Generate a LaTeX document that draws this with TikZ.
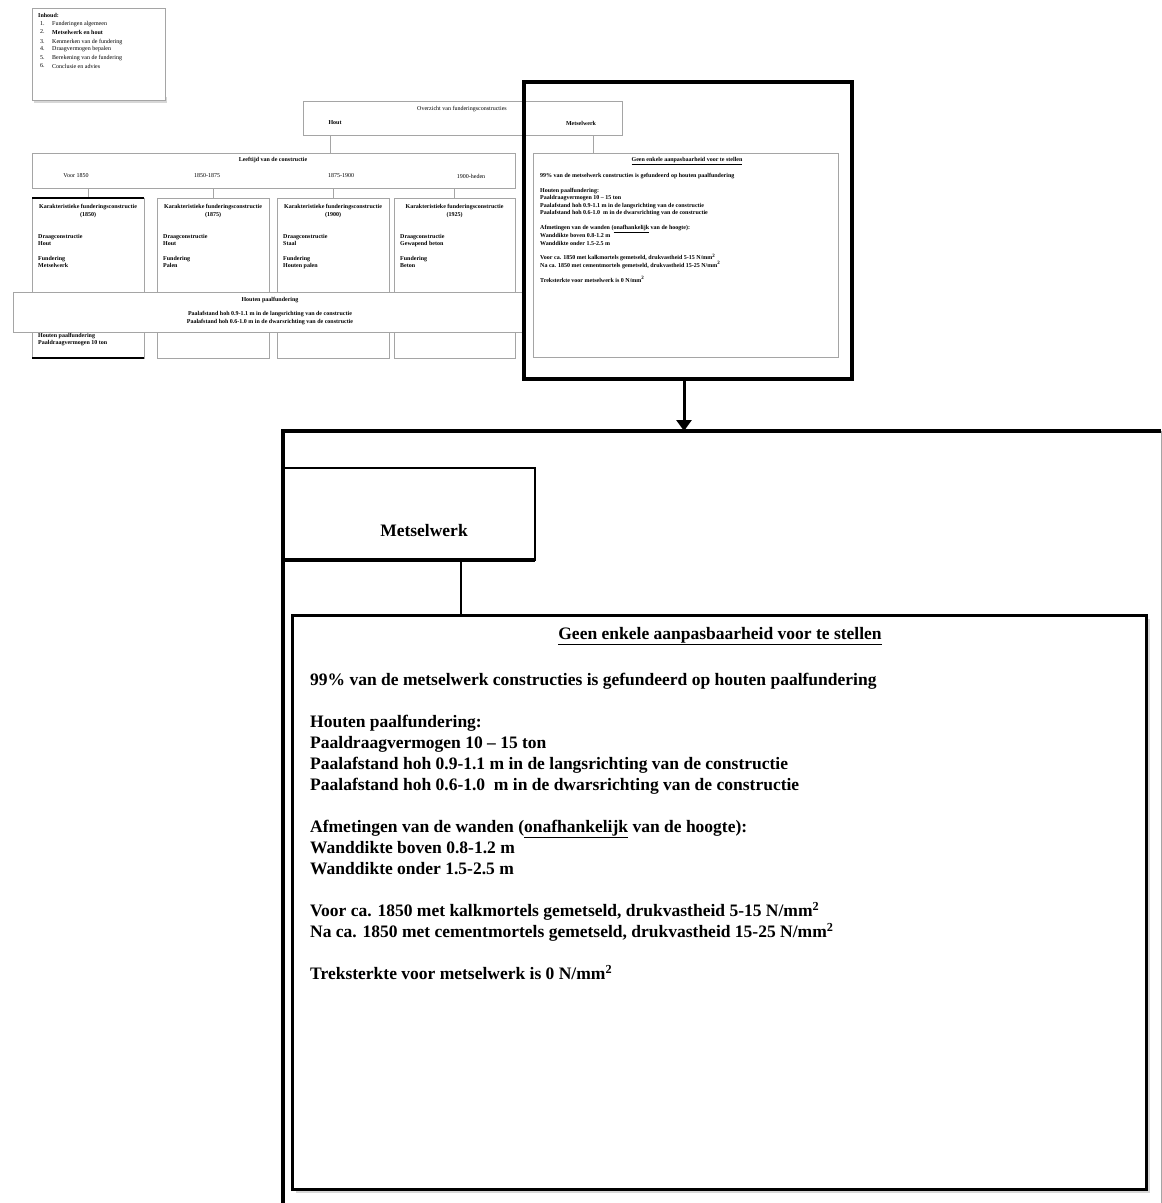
\documentclass[tikz,border=0pt]{standalone}
\usepackage{fontspec}
\setmainfont{Liberation Serif}
\usetikzlibrary{arrows.meta,positioning,calc}

\definecolor{kadergrijs}{RGB}{165,165,165}
\definecolor{schaduw}{RGB}{215,215,215}

% tekst van het metselwerk-vak (klein en groot gebruikt)
\newcommand{\metselkop}{Geen enkele aanpasbaarheid voor te stellen}
\newcommand{\metselinhoud}{%
99\% van de metselwerk constructies is gefundeerd op houten paalfundering\\[\baselineskip]
Houten paalfundering:\\
Paaldraagvermogen 10 -- 15 ton\\
Paalafstand hoh 0.9-1.1 m in de langsrichting van de constructie\\
Paalafstand hoh 0.6-1.0 \ m in de dwarsrichting van de constructie\\[\baselineskip]
Afmetingen van de wanden (\underline{onafhankelijk} van de hoogte):\\
Wanddikte boven 0.8-1.2 m\\
Wanddikte onder 1.5-2.5 m\\[\baselineskip]
Voor ca. 1850 met kalkmortels gemetseld, drukvastheid 5-15 N/mm\textsuperscript{2}\\
Na ca. 1850 met cementmortels gemetseld, drukvastheid 15-25 N/mm\textsuperscript{2}\\[\baselineskip]
Treksterkte voor metselwerk is 0 N/mm\textsuperscript{2}}

\begin{document}
\begin{tikzpicture}[
    x=1pt, y=-1pt,
    vak/.style={
        draw=kadergrijs, line width=0.9pt, fill=white,
        inner sep=0pt, outer sep=0pt, anchor=north west
    },
    mini/.style={font=\fontsize{6}{7.4}\selectfont, inner sep=0pt},
    minivet/.style={font=\fontsize{6}{7.4}\selectfont\bfseries, inner sep=0pt},
    groot/.style={font=\fontsize{17.5}{21}\selectfont\bfseries, inner sep=0pt},
    verbinding/.style={draw=kadergrijs, line width=0.9pt},
    dik/.style={line width=4pt, black}
]
\useasboundingbox (0,0) rectangle (1162,1203);

% Inhoud (links boven)
\fill[schaduw] (34,97) rectangle (167,103);
\node[vak, minimum width=133, minimum height=92] (inhoud) at (32,8) {};
\node[minivet, anchor=west] (inhoudkop) at (38,15) {Inhoud:};
\foreach \n/\y/\t in {1/24/Funderingen algemeen,
                      2/32/\textbf{Metselwerk en hout},
                      3/42/Kenmerken van de fundering,
                      4/49/Draagvermogen bepalen,
                      5/58/Berekening van de fundering,
                      6/66/Conclusie en advies} {
    \node[mini, anchor=west] (nummer\n) at (40,\y) {\n.};
    \node[mini, anchor=west] (punt\n) at (52,\y) {\t};
}

% Soorten constructies
\node[vak, minimum width=319, minimum height=34] (soorten) at (303,101) {};
\node[mini] (soortenkop) at (462,109) {Overzicht van funderingsconstructies};
\node[minivet] (hout) at (335,123) {Hout};
\node[minivet] (metsel) at (581,123) {Metselwerk};
\coordinate (houttak) at (330,0);
\coordinate (metseltak) at (593,0);

% Leeftijd
\node[vak, minimum width=483, minimum height=35] (leeftijd) at (32,153) {};
\node[minivet] (leeftijdkop) at (273,160) {Leeftijd van de constructie};
\node[mini] (tijd1) at (76,176) {Voor 1850};
\node[mini] (tijd2) at (207,176) {1850-1875};
\node[mini] (tijd3) at (341,176) {1875-1900};
\node[mini] (tijd4) at (471,176) {1900-heden};
\draw[verbinding] (soorten.south -| houttak) -- (leeftijd.north -| houttak);

% Vier perioden
\foreach \i/\x/\w/\jaar/\draag/\fund in {
        1/32/112/1850/Hout / Metselwerk/Palen,
        2/157/112/1875/Hout/Palen,
        3/277/112/1900/Staal/Houten palen,
        4/394/121/1925/Gewapend beton/Beton} {
    \node[vak, minimum width=\w, minimum height=160] (periode\i) at (\x,198) {};
    \draw[verbinding] (periode\i.north |- leeftijd.south) -- (periode\i.north);
    \node[minivet, align=center] (periodekop\i) at ($(periode\i.north)+(0,13)$)
        {Karakteristieke funderingsconstructie\\(\jaar)};
    \node[minivet, align=left, anchor=north west] (periodetekst\i) at (\x+6,234)
        {Draagconstructie\\\draag\\[\baselineskip]Fundering\\\fund};
}
\draw[black, line width=1.5pt] (periode1.north west) -- (periode1.north east);
\draw[black, line width=2pt] (periode1.south west) -- (periode1.south east);

% Houten paalfundering (over de perioden)
\node[vak, minimum width=509, minimum height=40] (paal) at (13,292) {};
\node[minivet] (paalkop) at (270,300) {Houten paalfundering};
\node[minivet, align=center] (paaltekst) at (270,318)
    {Paalafstand hoh 0.9-1.1 m in de langsrichting van de constructie\\
     Paalafstand hoh 0.6-1.0 m in de dwarsrichting van de constructie};
\node[minivet, align=left, anchor=north west] (paalonder) at (38,333)
    {Houten paalfundering\\Paaldraagvermogen 10 ton};

% Metselwerk (klein)
\node[vak, minimum width=305, minimum height=204] (kleindetail) at (533,153) {};
\draw[verbinding] (soorten.south -| metseltak) -- (kleindetail.north -| metseltak);
\node[minivet] (kleinkop) at (687,161) {\underline{\metselkop}};
\node[minivet, align=left, anchor=north west] (kleintekst) at (540,173) {\metselinhoud};

% Uitsnede en vergroting
\node[draw, dik, minimum width=328, minimum height=297, inner sep=0pt,
      outer sep=0pt, anchor=north west] (uitsnede) at (524,82) {};
\node[minimum width=878, minimum height=772, inner sep=0pt, outer sep=0pt,
      anchor=north west] (vergroting) at (283,431) {};
\draw[kadergrijs, line width=1pt] (vergroting.north east) -- (vergroting.south east);
\draw[dik] (vergroting.south west) -- (vergroting.north west) -- (vergroting.north east);
\draw[line width=3pt, -{Triangle[length=11pt, width=15pt]}]
    (uitsnede.south -| 684,0) -- (vergroting.north -| 684,0);

% Metselwerk (groot)
\node[draw, line width=2pt, minimum width=252, minimum height=92, inner sep=0pt,
      outer sep=0pt, anchor=north west] (kop) at (283,468) {};
\draw[dik] (kop.south west) -- (kop.south east);
\node[groot] (kopnaam) at (424,531) {Metselwerk};
\coordinate (kopvoet) at (461,560);

\draw[schaduw, line width=2pt] (296,1192) -- (1149,1192) -- (1149,619);
\node[draw, line width=3pt, minimum width=854, minimum height=574, inner sep=0pt,
      outer sep=0pt, anchor=north west] (detail) at (292,615) {};
\draw[line width=1.5pt] (kopvoet) -- (detail.north -| kopvoet);
\node[groot] (detailkop) at (720,636) {\underline{\metselkop}};
\node[groot, align=left, anchor=north west] (detailtekst) at (310,673) {\metselinhoud};

\end{tikzpicture}
\end{document}
